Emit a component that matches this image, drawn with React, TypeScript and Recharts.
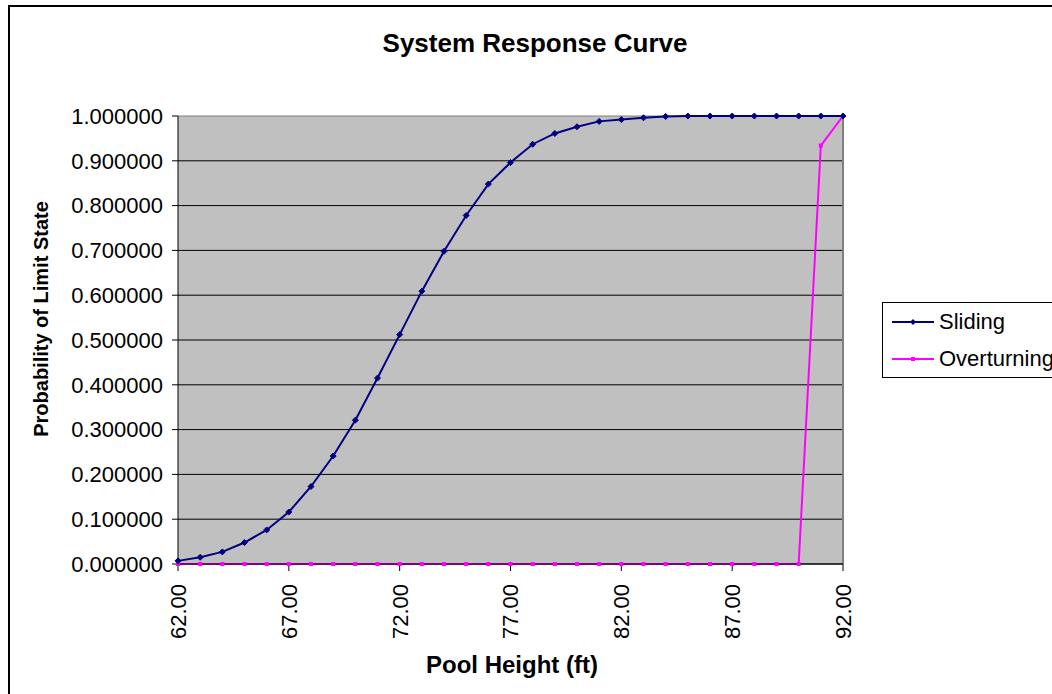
import { LineChart, Line, XAxis, YAxis, CartesianGrid, Label } from 'recharts';

const heights = [62, 63, 64, 65, 66, 67, 68, 69, 70, 71, 72, 73, 74, 75, 76, 77, 78, 79, 80, 81, 82, 83, 84, 85, 86, 87, 88, 89, 90, 91, 92];
const sliding = [0.007, 0.015, 0.027, 0.048, 0.076, 0.116, 0.173, 0.241, 0.321, 0.415, 0.512, 0.609, 0.698, 0.778, 0.848, 0.896, 0.937, 0.961, 0.976, 0.988, 0.992, 0.996, 0.999, 1, 1, 1, 1, 1, 1, 1, 1];
const overturning = [0, 0, 0, 0, 0, 0, 0, 0, 0, 0, 0, 0, 0, 0, 0, 0, 0, 0, 0, 0, 0, 0, 0, 0, 0, 0, 0, 0, 0, 0.934, 1];
const xTicks = [62, 67, 72, 77, 82, 87, 92];
const yTicks = [0, 0.1, 0.2, 0.3, 0.4, 0.5, 0.6, 0.7, 0.8, 0.9, 1];

const series = [
  { key: 'sliding', name: 'Sliding', color: '#000080' },
  { key: 'overturning', name: 'Overturning', color: '#FF00FF' },
];

const FONT = '"Liberation Sans", Arial, sans-serif';
const W = 1052;
const H = 694;
// plot area edges
const TOP = 116;
const RIGHT = 843;

const data = heights.map((h, i) => ({ h, sliding: sliding[i], overturning: overturning[i] }));

function Diamond(props: any) {
  const { cx, cy, key } = props;
  if (cx == null || cy == null) return <g key={key} />;
  return <path key={key} d={`M${cx},${cy - 3}L${cx + 3},${cy}L${cx},${cy + 3}L${cx - 3},${cy}Z`} fill="#000080" stroke="#000080" />;
}

function Square(props: any) {
  const { cx, cy, key } = props;
  if (cx == null || cy == null) return <g key={key} />;
  return <rect key={key} x={cx - 2} y={cy - 2} width={4} height={4} fill="#FF00FF" />;
}

function XTick(props: any) {
  const { x, y, payload } = props;
  return (
    <text
      transform={`translate(${x},${y}) rotate(-90)`}
      textAnchor="end"
      dy="0.36em"
      fontSize={22}
      fontFamily={FONT}
      fill="#000"
    >
      {Number(payload.value).toFixed(2)}
    </text>
  );
}

export default function App() {
  return (
    <div style={{ position: 'absolute', left: 0, top: 0, width: W, height: H, overflow: 'hidden', background: '#fff', fontFamily: FONT }}>
      <div style={{ position: 'absolute', left: 8, top: 5, width: 1070, height: 720, border: '2px solid #000', boxSizing: 'border-box' }} />
      <svg style={{ position: 'absolute', left: 0, top: 0 }} width={W} height={80}>
        <text x={535} y={52} textAnchor="middle" fontSize={26} fontWeight="bold" fontFamily={FONT} fill="#000">
          System Response Curve
        </text>
      </svg>
      <div style={{ position: 'absolute', left: 0, top: 0 }}>
        <LineChart width={W} height={H} data={data} margin={{ top: TOP, right: W - RIGHT, bottom: 10, left: 8 }}>
          <CartesianGrid
            fill="#C0C0C0"
            horizontal={(p: any) => (
              <line key={p.key} x1={p.x1} y1={p.y1} x2={p.x2} y2={p.y2} stroke={Math.abs(p.y1 - TOP) < 1 ? '#808080' : '#000'} strokeWidth={1} />
            )}
            vertical={(p: any) =>
              Math.abs(p.x1 - RIGHT) < 1 ? (
                <line key={p.key} x1={p.x1} y1={p.y1} x2={p.x2} y2={p.y2} stroke="#808080" strokeWidth={2} />
              ) : (
                <g key={p.key} />
              )
            }
          />
          <XAxis
            dataKey="h"
            type="number"
            domain={[62, 92]}
            ticks={xTicks}
            interval={0}
            height={120}
            axisLine={{ stroke: '#000' }}
            tickLine={{ stroke: '#000' }}
            tickSize={7}
            tickMargin={13}
            tick={<XTick />}
          >
            <Label
              content={(p: any) => (
                <text x={512} y={p.viewBox.y + 109} textAnchor="middle" fontSize={24} fontWeight="bold" fontFamily={FONT} fill="#000">
                  Pool Height (ft)
                </text>
              )}
            />
          </XAxis>
          <YAxis
            type="number"
            domain={[0, 1]}
            ticks={yTicks}
            interval={0}
            width={170}
            axisLine={{ stroke: '#000' }}
            tickLine={{ stroke: '#000' }}
            tickSize={6}
            tickMargin={9}
            tickFormatter={(v: number) => v.toFixed(6)}
            tick={{ fontSize: 22, fill: '#000', fontFamily: FONT }}
          >
            <Label
              content={(p: any) => (
                <text
                  transform={`translate(${p.viewBox.x + 40},319) rotate(-90)`}
                  textAnchor="middle"
                  fontSize={20}
                  fontWeight="bold"
                  fontFamily={FONT}
                  fill="#000"
                >
                  Probability of Limit State
                </text>
              )}
            />
          </YAxis>
          <Line type="linear" dataKey="overturning" name="Overturning" stroke="#FF00FF" strokeWidth={2} dot={<Square />} isAnimationActive={false} />
          <Line type="linear" dataKey="sliding" name="Sliding" stroke="#000080" strokeWidth={2} dot={<Diamond />} isAnimationActive={false} />
        </LineChart>
      </div>
      <div style={{ position: 'absolute', left: 882, top: 302, width: 220, height: 76, border: '1px solid #000', boxSizing: 'border-box', background: '#fff' }}>
        {series.map((s, i) => (
          <div key={s.key} style={{ position: 'absolute', left: 8, top: 6 + i * 37, height: 26, display: 'flex', alignItems: 'center', whiteSpace: 'nowrap' }}>
            <svg width={50} height={10}>
              <line x1={1} y1={5} x2={43} y2={5} stroke={s.color} strokeWidth={2} />
              {s.key === 'sliding' ? (
                <path d="M22,2L25,5L22,8L19,5Z" fill={s.color} />
              ) : (
                <rect x={20} y={3} width={4} height={4} fill={s.color} />
              )}
            </svg>
            <span style={{ fontSize: 22, color: '#000', marginLeft: -2 }}>{s.name}</span>
          </div>
        ))}
      </div>
    </div>
  );
}
